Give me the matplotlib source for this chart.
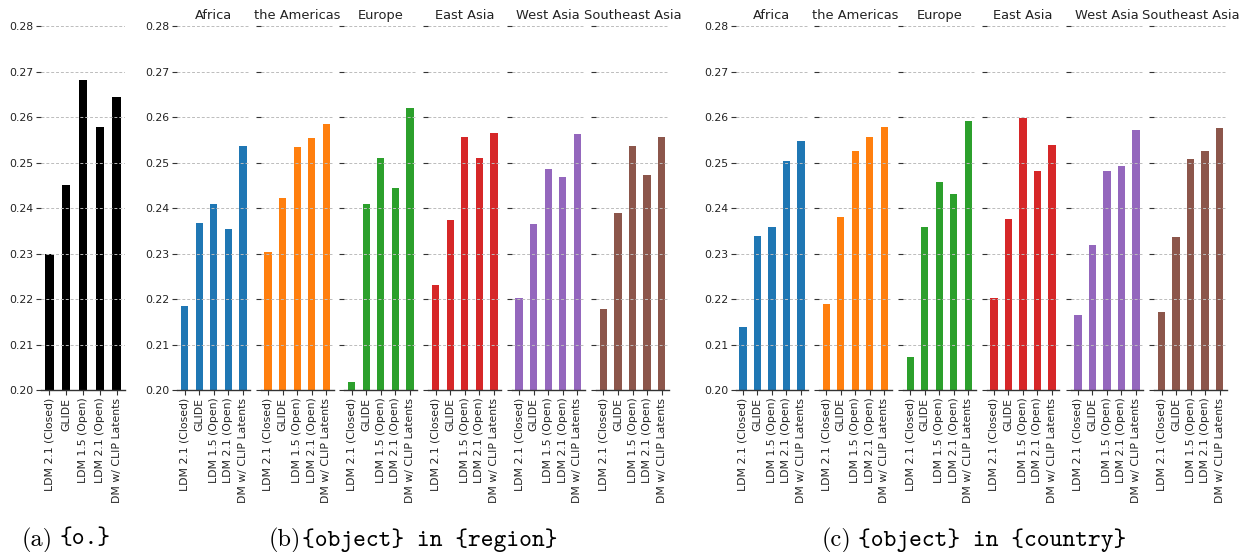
import matplotlib
matplotlib.use("Agg")
import matplotlib.pyplot as plt
import numpy as np

models = ["LDM 2.1 (Closed)", "GLIDE", "LDM 1.5 (Open)", "LDM 2.1 (Open)", "DM w/ CLIP Latents"]
regions = ["Africa", "the Americas", "Europe", "East Asia", "West Asia", "Southeast Asia"]
yticks = [0.20, 0.21, 0.22, 0.23, 0.24, 0.25, 0.26, 0.27, 0.28]

# (a) {o.}
vals_o = [0.2300, 0.2451, 0.2681, 0.2577, 0.2643]

# (b) {object} in {region}
vals_region_africa = [0.2185, 0.2368, 0.2409, 0.2354, 0.2536]
vals_region_americas = [0.2303, 0.2422, 0.2533, 0.2554, 0.2585]
vals_region_europe = [0.2018, 0.2409, 0.2510, 0.2445, 0.2620]
vals_region_eastasia = [0.2231, 0.2374, 0.2557, 0.2510, 0.2564]
vals_region_westasia = [0.2202, 0.2365, 0.2486, 0.2468, 0.2562]
vals_region_seasia = [0.2179, 0.2389, 0.2536, 0.2473, 0.2557]

# (c) {object} in {country}
vals_country_africa = [0.2139, 0.2338, 0.2358, 0.2503, 0.2547]
vals_country_americas = [0.2188, 0.2380, 0.2525, 0.2555, 0.2577]
vals_country_europe = [0.2072, 0.2359, 0.2458, 0.2430, 0.2591]
vals_country_eastasia = [0.2202, 0.2375, 0.2597, 0.2481, 0.2539]
vals_country_westasia = [0.2164, 0.2319, 0.2481, 0.2492, 0.2572]
vals_country_seasia = [0.2171, 0.2336, 0.2508, 0.2525, 0.2576]

vals_region = [vals_region_africa, vals_region_americas, vals_region_europe,
               vals_region_eastasia, vals_region_westasia, vals_region_seasia]
vals_country = [vals_country_africa, vals_country_americas, vals_country_europe,
                vals_country_eastasia, vals_country_westasia, vals_country_seasia]
colors = ["#1f77b4", "#ff7f0e", "#2ca02c", "#d62728", "#9467bd", "#8c564b"]

W, H = 1243, 552
fig = plt.figure(figsize=(W / 100, H / 100), dpi=100)

ax_bottom_px, ax_top_px = 390, 26
TICK_FS = 7.8
TITLE_FS = 9.4


def make_axes(left_px, width_px, values, color, title=None, show_ylabels=False):
    ax = fig.add_axes([left_px / W, 1 - ax_bottom_px / H, width_px / W,
                       (ax_bottom_px - ax_top_px) / H])
    x = np.arange(len(models))
    ax.bar(x, np.array(values) - 0.20, bottom=0.20, width=0.5, color=color, zorder=1)
    ax.set_xlim(-0.5, len(models) - 0.5)
    ax.set_ylim(0.20, 0.28)
    ax.set_yticks(yticks)
    if show_ylabels:
        ax.set_yticklabels([f"{t:.2f}" for t in yticks], fontsize=TICK_FS)
    else:
        ax.set_yticklabels([])
    ax.set_xticks(x)
    ax.set_xticklabels(models, rotation=90, fontsize=TICK_FS)
    for s in ["top", "right", "left"]:
        ax.spines[s].set_visible(False)
    ax.spines["bottom"].set_color("#333333")
    ax.spines["bottom"].set_linewidth(1.0)
    ax.tick_params(axis="both", length=3.5, width=0.8, colors="#333333",
                   labelcolor="#222222", pad=2)
    ax.yaxis.grid(True, linestyle=(0, (3, 2)), color="#bcbcbc", linewidth=0.7, zorder=3)
    ax.set_axisbelow(False)
    if title:
        ax.set_title(title, fontsize=TITLE_FS, pad=5, color="#222222")
    return ax


make_axes(41, 84, vals_o, "black", show_ylabels=True)

lefts_b = [177.3, 260.7, 344.3, 428.3, 511.7, 596.0]
lefts_c = [735.7, 819.0, 903.0, 986.7, 1070.7, 1154.3]
for i, (reg, col) in enumerate(zip(regions, colors)):
    make_axes(lefts_b[i], 73, vals_region[i], col, title=reg, show_ylabels=(i == 0))
    make_axes(lefts_c[i], 72.5, vals_country[i], col, title=reg, show_ylabels=(i == 0))

cap_y = 1 - 540 / H
CAP_FS = 17.5
fig.text(22 / W, cap_y, "(a)", fontfamily="cmr10", fontsize=CAP_FS, va="center", ha="left")
fig.text(60 / W, cap_y, "{o.}", fontfamily="cmtt10", fontsize=CAP_FS, va="center", ha="left")
fig.text(269 / W, cap_y, "(b)", fontfamily="cmr10", fontsize=CAP_FS, va="center", ha="left")
fig.text(302 / W, cap_y, "{object} in {region}", fontfamily="cmtt10", fontsize=CAP_FS,
         va="center", ha="left")
fig.text(822 / W, cap_y, "(c)", fontfamily="cmr10", fontsize=CAP_FS, va="center", ha="left")
fig.text(858 / W, cap_y, "{object} in {country}", fontfamily="cmtt10", fontsize=CAP_FS,
         va="center", ha="left")

fig.savefig("out.png", dpi=100)
